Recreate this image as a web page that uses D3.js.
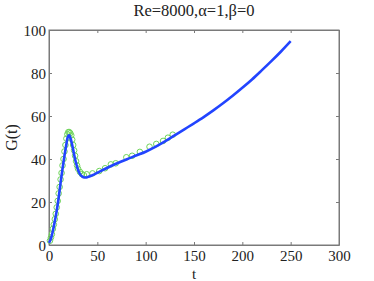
<!DOCTYPE html>
<html><head><meta charset="utf-8">
<script src="https://cdn.jsdelivr.net/npm/d3@7"></script>
<style>body{margin:0;background:#fff}svg{display:block}text{font-family:"Liberation Serif","Times New Roman",serif;fill:#222}</style>
</head><body>
<svg id="c" width="374" height="281"></svg>
<script>
const title = "Re=8000,\u03b1=1,\u03b2=0";
const xTicks = [0,50,100,150,200,250,300];
const yTicks = [0,20,40,60,80,100];
// theory curve
const lineT = [0,2,4,6,8,10,12,14,16,18,19,20,21,22,24,26,28,30,32,34,36,38,40,45,50,60,70,80,90,100,110,120,130,140,150,160,170,180,190,200,210,220,230,240,250];
const lineG = [1,3,6.5,11,16,22,29,35.5,41.5,47,49.5,50.8,51,50,46.5,42,38,35,33,32,31.5,31.4,31.6,32.5,33.6,35.8,37.9,39.8,41.6,43.4,45.6,48.2,51,53.8,56.6,59.5,62.6,65.9,69.4,73.1,77,81.2,85.5,90,94.8];
// simulation markers
const dotT = [1,2,3,4,5,6,7,8,9,10,11,12,13,14,15,16,17,18,19,20,21,22,23,24,25,26,27,28,29,30,32,34,36,39,45,52,58,64,69,80,86,94,104,111,118,123,128];
const dotG = [2,3.5,5,7.5,9.5,12,14.5,17.5,20.5,24,27,30.5,33.5,37,40,43.5,46.5,49.5,51.5,52.5,52.5,52,51,49,46.5,44,41.5,39,37,35.5,34,33,32.5,32.9,33.3,34.4,35.7,37.5,38,40.8,41.5,43.3,45.7,47,48.4,49.9,51.3];

const svg = d3.select("#c");
const L=49,R=339,T=30,B=245;
const x = d3.scaleLinear().domain([0,300]).range([L,R]);
const y = d3.scaleLinear().domain([0,100]).range([B,T]);
const axCol="#7a7a7a";

svg.append("rect").attr("x",L).attr("y",T).attr("width",R-L).attr("height",B-T)
  .attr("fill","none").attr("stroke",axCol).attr("stroke-width",1);

const gx = svg.append("g").attr("transform",`translate(0,${B})`)
  .call(d3.axisBottom(x).tickValues(xTicks).tickSizeInner(-3).tickSizeOuter(0).tickPadding(5));
const gxt = svg.append("g").attr("transform",`translate(0,${T})`)
  .call(d3.axisTop(x).tickValues(xTicks).tickSizeInner(-3).tickSizeOuter(0).tickFormat(""));
const gy = svg.append("g").attr("transform",`translate(${L},0)`)
  .call(d3.axisLeft(y).tickValues(yTicks).tickSizeInner(-3).tickSizeOuter(0).tickPadding(3));
const gyr = svg.append("g").attr("transform",`translate(${R},0)`)
  .call(d3.axisRight(y).tickValues(yTicks).tickSizeInner(-3).tickSizeOuter(0).tickFormat(""));
[gx,gxt,gy,gyr].forEach(g=>{
  g.select(".domain").attr("stroke",axCol);
  g.selectAll(".tick line").attr("stroke",axCol);
  g.selectAll("text").attr("font-family","Liberation Serif, serif").attr("font-size",15).attr("fill","#1a1a1a");
});
gy.selectAll("text").attr("dy","0.35em");

svg.append("g").selectAll("circle").data(dotT.map((t,i)=>[t,dotG[i]])).join("circle")
  .attr("cx",d=>x(d[0])).attr("cy",d=>y(d[1])).attr("r",2.8)
  .attr("fill","none").attr("stroke","#6fd45a").attr("stroke-width",1);

svg.append("path").datum(lineT.map((t,i)=>[t,lineG[i]]))
  .attr("d",d3.line().x(d=>x(d[0])).y(d=>y(d[1])).curve(d3.curveMonotoneX))
  .attr("fill","none").attr("stroke","#2244ff").attr("stroke-width",2.6).attr("stroke-linejoin","round");

svg.append("text").attr("x",(L+R)/2).attr("y",16).attr("text-anchor","middle").attr("font-size",16.5).attr("fill","#1a1a1a").text(title);
svg.append("text").attr("x",(L+R)/2).attr("y",279).attr("text-anchor","middle").attr("font-size",15).attr("fill","#1a1a1a").text("t");
svg.append("text").attr("transform",`translate(17,${(T+B)/2}) rotate(-90)`).attr("text-anchor","middle").attr("font-size",16).attr("fill","#1a1a1a").text("G(t)");
</script>
</body></html>
